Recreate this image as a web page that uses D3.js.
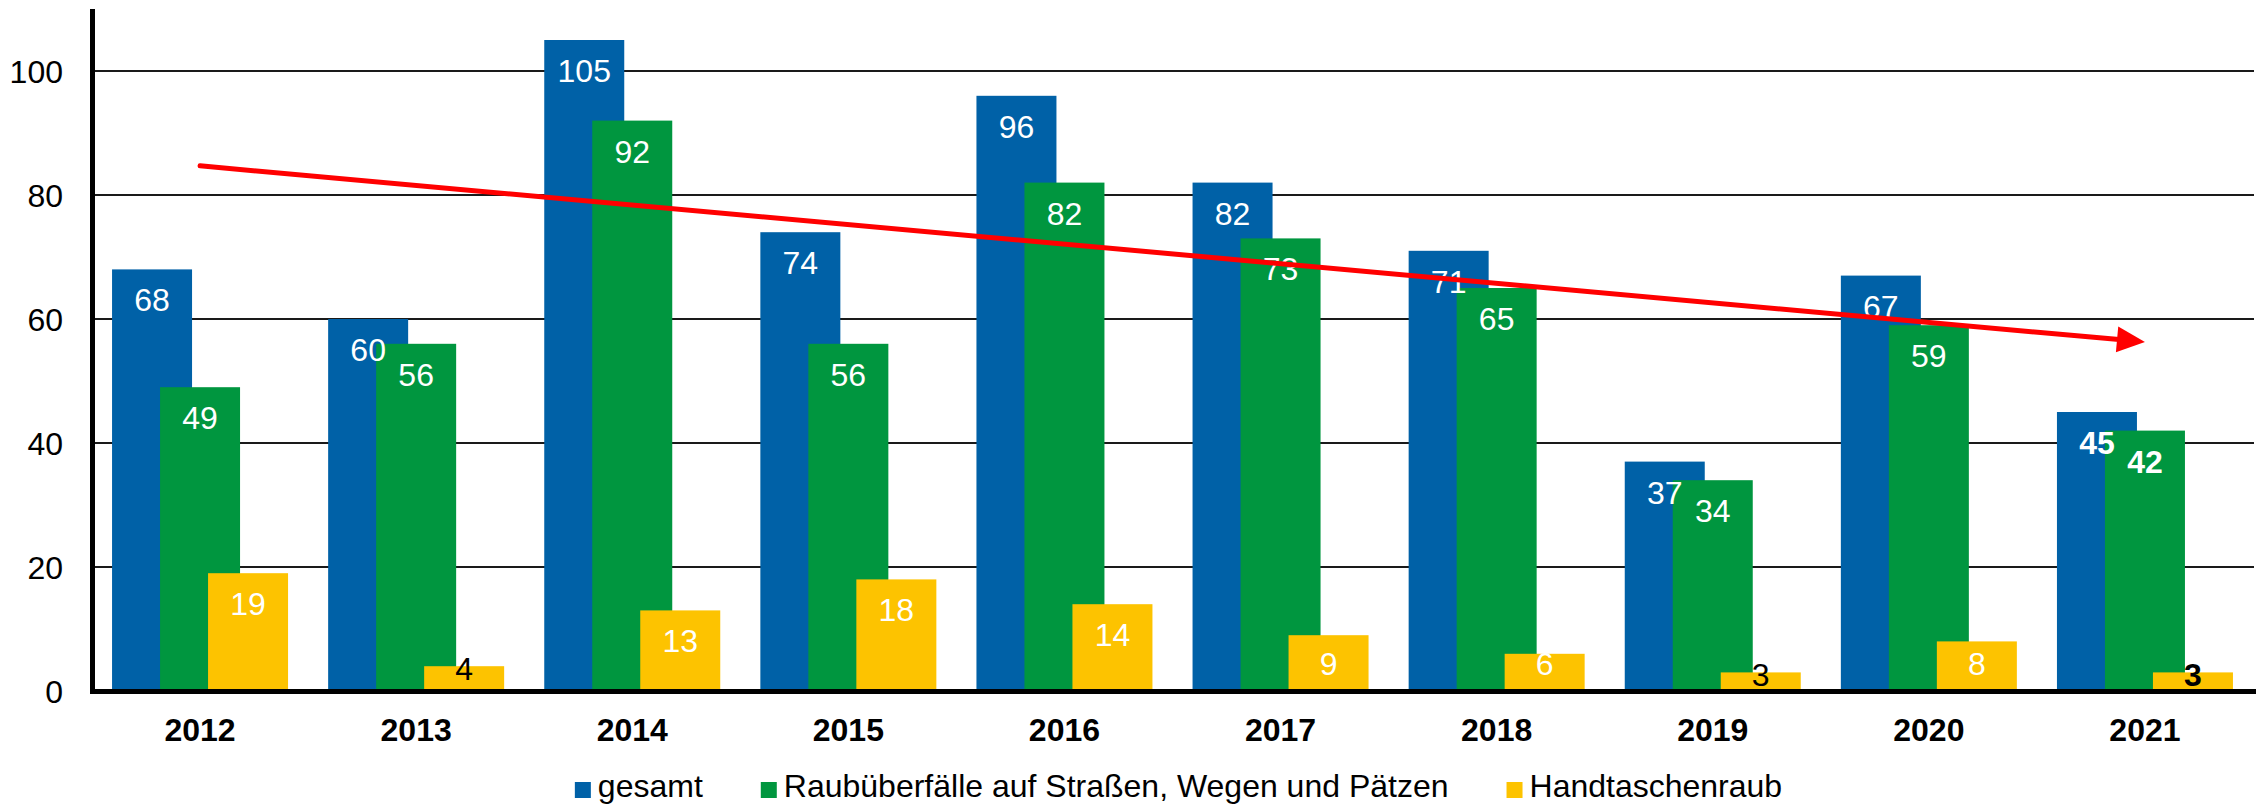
<!DOCTYPE html>
<html>
<head>
<meta charset="utf-8">
<script src="https://cdn.jsdelivr.net/npm/d3@7"></script>
<style>
  body { margin: 0; background: #fff; }
  text { font-family: "Liberation Sans", Arial, sans-serif; }
</style>
</head>
<body>
<div id="chart"></div>
<script>
// data
var years = [2012, 2013, 2014, 2015, 2016, 2017, 2018, 2019, 2020, 2021];
var gesamt = [68, 60, 105, 74, 96, 82, 71, 37, 67, 45];
var strassen = [49, 56, 92, 56, 82, 73, 65, 34, 59, 42];
var handtaschen = [19, 4, 13, 18, 14, 9, 6, 3, 8, 3];
var seriesNames = ["gesamt", "Raubüberfälle auf Straßen, Wegen und Pätzen", "Handtaschenraub"];
var yTicks = [0, 20, 40, 60, 80, 100];
var trendYears = [2012, 2021];
var trendValues = [84.7, 56.3];

var colors = ["#0061a7", "#00963f", "#fdc300"];

var width = 2264, height = 804;
var svg = d3.select("#chart").append("svg")
  .attr("width", width)
  .attr("height", height);

var x = d3.scaleBand()
  .domain(years)
  .range([92, 2253])
  .padding(0);

var y = d3.scaleLinear()
  .domain([0, 110])
  .range([691, 9]);

var barW = 80, barStep = 48;

// gridlines
svg.append("g").selectAll("line")
  .data(yTicks.filter(function(t) { return t > 0; }))
  .enter().append("line")
  .attr("x1", 92).attr("x2", 2254)
  .attr("y1", function(d) { return y(d); })
  .attr("y2", function(d) { return y(d); })
  .attr("stroke", "#1a1a1a")
  .attr("stroke-width", 2);

// bars
var series = [gesamt, strassen, handtaschen];
var bars = [];
series.forEach(function(vals, s) {
  vals.forEach(function(v, i) {
    bars.push({ s: s, year: years[i], value: v });
  });
});

function barX(d) {
  var center = x(d.year) + x.bandwidth() / 2;
  return center - 88 + d.s * barStep;
}

svg.append("g").selectAll("rect")
  .data(bars)
  .enter().append("rect")
  .attr("x", barX)
  .attr("width", barW)
  .attr("y", function(d) { return y(d.value); })
  .attr("height", function(d) { return y(0) - y(d.value); })
  .attr("fill", function(d) { return colors[d.s]; });

// value labels
svg.append("g").selectAll("text")
  .data(bars)
  .enter().append("text")
  .attr("x", function(d) { return barX(d) + barW / 2; })
  .attr("y", function(d) {
    var top = y(d.value);
    if (d.value < 5) return top + 14;
    return Math.min(top + 42, 675);
  })
  .attr("text-anchor", "middle")
  .attr("font-size", 32)
  .attr("font-weight", function(d) { return d.year === 2021 ? "bold" : "normal"; })
  .attr("fill", function(d) { return d.value < 5 ? "#000" : "#fff"; })
  .text(function(d) { return d.value; });

// axes
svg.append("line")
  .attr("x1", 92.5).attr("x2", 92.5)
  .attr("y1", 9).attr("y2", 694)
  .attr("stroke", "#000").attr("stroke-width", 5);
svg.append("line")
  .attr("x1", 90).attr("x2", 2256)
  .attr("y1", 691.5).attr("y2", 691.5)
  .attr("stroke", "#000").attr("stroke-width", 5);

svg.append("g").selectAll("text")
  .data(yTicks)
  .enter().append("text")
  .attr("x", 63)
  .attr("y", function(d) { return y(d); })
  .attr("dy", "0.36em")
  .attr("text-anchor", "end")
  .attr("font-size", 32)
  .attr("fill", "#000")
  .text(function(d) { return d; });

svg.append("g").selectAll("text")
  .data(years)
  .enter().append("text")
  .attr("x", function(d) { return x(d) + x.bandwidth() / 2; })
  .attr("y", 741)
  .attr("text-anchor", "middle")
  .attr("font-size", 32)
  .attr("font-weight", "bold")
  .attr("fill", "#000")
  .text(function(d) { return d; });

// trend arrow
var x0 = x(trendYears[0]) + x.bandwidth() / 2, y0 = y(trendValues[0]);
var x1 = x(trendYears[1]) + x.bandwidth() / 2, y1 = y(trendValues[1]);
var ang = Math.atan2(y1 - y0, x1 - x0);
var headLen = 28, headHalf = 13;
var bx = x1 - headLen * Math.cos(ang), by = y1 - headLen * Math.sin(ang);
svg.append("line")
  .attr("x1", x0).attr("y1", y0)
  .attr("x2", bx + 2 * Math.cos(ang)).attr("y2", by + 2 * Math.sin(ang))
  .attr("stroke", "#ff0000")
  .attr("stroke-width", 5)
  .attr("stroke-linecap", "round");
svg.append("path")
  .attr("d", d3.line()([
    [x1, y1],
    [bx + headHalf * Math.sin(ang), by - headHalf * Math.cos(ang)],
    [bx - headHalf * Math.sin(ang), by + headHalf * Math.cos(ang)]
  ]) + "Z")
  .attr("fill", "#ff0000");

// legend
var legend = svg.append("g");
var lx = 0;
seriesNames.forEach(function(name, i) {
  var g = legend.append("g").attr("transform", "translate(" + lx + ",0)");
  g.append("rect")
    .attr("x", 0).attr("y", 782)
    .attr("width", 16).attr("height", 16)
    .attr("fill", colors[i]);
  var t = g.append("text")
    .attr("x", 23).attr("y", 797)
    .attr("font-size", 32)
    .attr("fill", "#000")
    .text(name);
  lx += 23 + t.node().getComputedTextLength() + 58;
});
var legendW = lx - 58;
legend.attr("transform", "translate(" + (1178.5 - legendW / 2) + ",0)");
</script>
</body>
</html>
